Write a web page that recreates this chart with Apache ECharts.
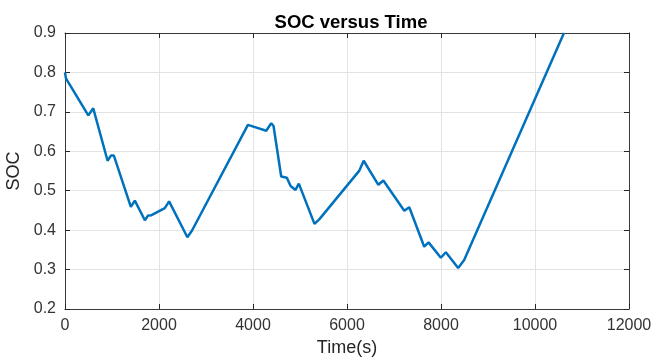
<!DOCTYPE html>
<html>
<head>
<meta charset="utf-8">
<title>SOC versus Time</title>
<script src="https://cdn.jsdelivr.net/npm/echarts@6/dist/echarts.min.js"></script>
<style>
    html, body { margin: 0; padding: 0; background: #fff; }
    #chart { width: 654px; height: 360px; }
</style>
</head>
<body>
<div id="chart"></div>
<script>
// time (s) and state of charge
var timeS = [0, 20, 496, 601, 906, 977, 1040, 1401, 1486, 1699, 1769, 1840, 2123, 2215,
    2604, 2703, 3892, 4282, 4388, 4437, 4600, 4720, 4800, 4904, 4975, 5308, 5414,
    6263, 6355, 6667, 6773, 7219, 7325, 7643, 7735, 7997, 8103, 8365, 8493, 10616];
var soc = [0.800, 0.785, 0.691, 0.709, 0.576, 0.589, 0.589, 0.459, 0.475, 0.425, 0.437, 0.438, 0.456, 0.473,
    0.382, 0.399, 0.667, 0.652, 0.671, 0.664, 0.536, 0.533, 0.512, 0.502, 0.518, 0.416, 0.428,
    0.551, 0.576, 0.515, 0.526, 0.449, 0.458, 0.358, 0.369, 0.330, 0.344, 0.304, 0.324, 0.900];
var xTicks = { min: 0, max: 12000, step: 2000 };
var yTicks = { min: 0.2, max: 0.9, step: 0.1 };

var axisCol = '#262626';
var fontFam = '"Liberation Sans", Arial, Helvetica, sans-serif';

var points = [];
for (var i = 0; i < timeS.length; i++) {
    points.push([timeS[i], soc[i]]);
}

var chart = echarts.init(document.getElementById('chart'));

// one side of the matlab-style box: ticks point inward
function boxAxis(pos, isX, showLabel) {
    var t = isX ? xTicks : yTicks;
    var ax = {
        type: 'value',
        position: pos,
        min: t.min,
        max: t.max,
        interval: t.step,
        axisLine: { show: true, onZero: false, lineStyle: { color: '#3a3a3a', width: 1 } },
        axisTick: { show: true, inside: true, length: 5, lineStyle: { color: axisCol } },
        splitLine: { show: showLabel, lineStyle: { color: '#e3e3e3', width: 1 } },
        axisLabel: {
            show: showLabel,
            color: '#333333',
            fontSize: 16,
            fontFamily: fontFam,
            margin: 9
        }
    };
    if (isX) {
        ax.axisLabel.formatter = function (v) { return String(v); };
    } else {
        ax.axisLabel.formatter = function (v) { return v.toFixed(1); };
    }
    return ax;
}

var xMain = boxAxis('bottom', true, true);
xMain.name = 'Time(s)';
xMain.nameLocation = 'middle';
xMain.nameGap = 30;
xMain.nameTextStyle = { color: axisCol, fontSize: 18, fontFamily: fontFam };

var yMain = boxAxis('left', false, true);
yMain.name = 'SOC';
yMain.nameLocation = 'middle';
yMain.nameGap = 33;
yMain.nameRotate = 90;
yMain.nameTextStyle = { color: axisCol, fontSize: 18, fontFamily: fontFam };

var option = {
    animation: false,
    backgroundColor: '#ffffff',
    title: {
        text: 'SOC versus Time',
        left: 346,
        textAlign: 'center',
        top: 8,
        textStyle: { color: '#000', fontSize: 18.5, fontWeight: 'bold', fontFamily: fontFam }
    },
    grid: { left: 65, right: 25, top: 33, bottom: 51, containLabel: false, outerBoundsMode: 'none' },
    xAxis: [xMain, boxAxis('top', true, false)],
    yAxis: [yMain, boxAxis('right', false, false)],
    series: [
        {
            type: 'line',
            data: points,
            showSymbol: false,
            clip: true,
            lineStyle: { color: '#0072BD', width: 2.5 },
            itemStyle: { color: '#0072BD' }
        }
    ]
};

chart.setOption(option);
</script>
</body>
</html>
